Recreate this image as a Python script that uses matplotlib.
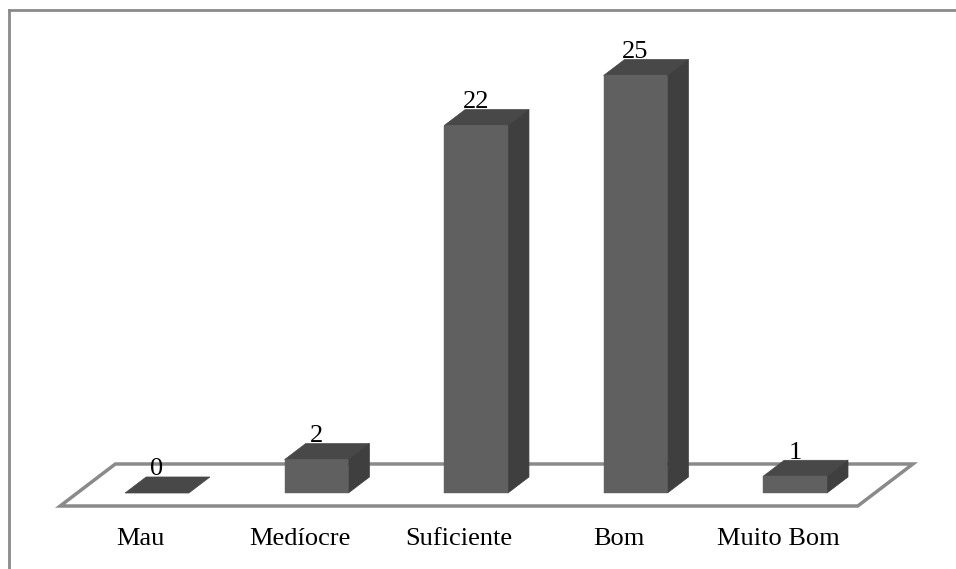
import matplotlib.pyplot as plt
from matplotlib.patches import Polygon
from matplotlib.lines import Line2D

categories = ['Mau', 'Medíocre', 'Suficiente', 'Bom', 'Muito Bom']
values = [0, 2, 22, 25, 1]

# 3D look: depth vector of a bar (in x units / value units)
DX, DY = 0.132, 0.96
BAR_W = 0.40
FLOOR_FRONT, FLOOR_BACK = -0.81, 1.81  # floor depth, in bar-depth units

FRONT = '#606060'
TOP = '#484848'
SIDE = '#3f3f3f'
EDGE = '#8a8a8a'

plt.rcParams['font.family'] = ['Liberation Serif', 'DejaVu Serif']

fig = plt.figure(figsize=(9.56, 5.69), dpi=100)
ax = fig.add_axes([0, 0, 1, 1])
ax.set_xlim(-0.984, 5.009)
ax.set_ylim(-4.55, 29.52)
ax.axis('off')


def shift(x, y, d):
    return (x + d * DX, y + d * DY)


# floor
n = len(categories)
x0, x1 = -0.5, n - 0.5
floor = [shift(x0, 0, FLOOR_FRONT), shift(x1, 0, FLOOR_FRONT),
         shift(x1, 0, FLOOR_BACK), shift(x0, 0, FLOOR_BACK)]
ax.add_patch(Polygon(floor, closed=True, fill=False, edgecolor=EDGE, lw=2.5, zorder=1))

# bars
for i, v in enumerate(values):
    l, r = i - BAR_W / 2, i + BAR_W / 2
    top = [(l, v), (r, v), shift(r, v, 1), shift(l, v, 1)]
    ax.add_patch(Polygon(top, closed=True, facecolor=TOP, edgecolor=TOP, lw=0.5, zorder=2))
    if v > 0:
        side = [(r, 0), shift(r, 0, 1), shift(r, v, 1), (r, v)]
        ax.add_patch(Polygon(side, closed=True, facecolor=SIDE, edgecolor=SIDE, lw=0.5, zorder=2))
        ax.add_patch(Polygon([(l, 0), (r, 0), (r, v), (l, v)], closed=True,
                             facecolor=FRONT, edgecolor=FRONT, lw=0.3, zorder=3))
    ax.text(i, v + DY + 0.1, str(v), ha='center', va='baseline', fontsize=19, zorder=4)
    lx, ly = shift(i, -2.75, FLOOR_FRONT)
    ax.text(lx, -2.75, categories[i], ha='center', va='center', fontsize=19)

# outer chart frame (cropped on the right and bottom)
fig.add_artist(Line2D([8.5 / 956, 1], [1 - 10 / 569, 1 - 10 / 569], color=EDGE, lw=2))
fig.add_artist(Line2D([8.5 / 956, 8.5 / 956], [0, 1 - 10 / 569], color=EDGE, lw=2))

fig.savefig('out.png', dpi=100)
